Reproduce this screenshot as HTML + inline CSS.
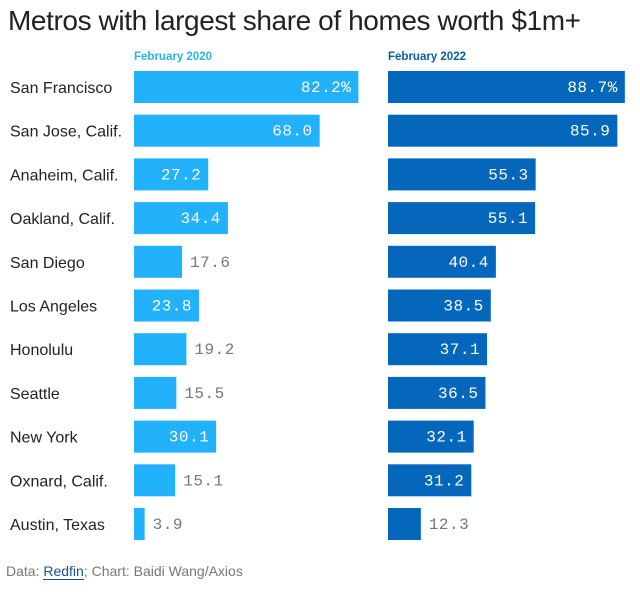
<!DOCTYPE html>
<html><head><meta charset="utf-8"><style>
body{margin:0;background:#fff;width:640px;height:594px;overflow:hidden;font-family:"Liberation Sans",sans-serif;position:relative}
.t{position:absolute;left:8px;top:5px;font-size:28px;color:#222;letter-spacing:-0.4px}
.h{position:absolute;top:51px;font-size:11.5px;font-weight:bold}
.src{position:absolute;left:6px;top:563px;font-size:14px;color:#777}
.src a{color:#1a4f9c;text-decoration:none;border-bottom:1px solid #1a4f9c}
</style></head><body>
<div class="t">Metros with largest share of homes worth $1m+</div>
<div class="h" style="left:134px;color:#29b3f5">February 2020</div>
<div class="h" style="left:388px;color:#0a5ea8">February 2022</div>
<svg id="c" width="640" height="594" style="position:absolute;left:0;top:0"></svg>
<div class="src">Data: <a>Redfin</a>; Chart: Baidi Wang/Axios</div>
<script>
const metros=["San Francisco","San Jose, Calif.","Anaheim, Calif.","Oakland, Calif.","San Diego","Los Angeles","Honolulu","Seattle","New York","Oxnard, Calif.","Austin, Texas"];
const v2020=[82.2,68.0,27.2,34.4,17.6,23.8,19.2,15.5,30.1,15.1,3.9];
const v2022=[88.7,85.9,55.3,55.1,40.4,38.5,37.1,36.5,32.1,31.2,12.3];
const NS="http://www.w3.org/2000/svg",svg=document.getElementById('c');
const rowY=i=>71+i*43.7, BH=32;
function el(t,a){const e=document.createElementNS(NS,t);for(const k in a)e.setAttribute(k,a[k]);svg.appendChild(e);return e;}
function col(vals,x0,scale,color,name){
 vals.forEach((v,i)=>{
  const y=rowY(i),w=v*scale;
  const r=el('rect',{x:x0,y:y,width:w,height:BH,fill:color});
  
  
  const lbl=(i===0?v.toFixed(1)+'%':v.toFixed(1));
  const inside=v>=20;
  const t=el('text',{x:inside?x0+w-7:x0+w+8,y:y+BH/2+5,'text-anchor':inside?'end':'start','font-family':'Liberation Mono, monospace','font-size':16,fill:inside?'#fff':'#777','letter-spacing':'0.5'});
  t.textContent=lbl;
  
  
 });
}
metros.forEach((m,i)=>{
 const t=el('text',{x:10,y:rowY(i)+BH/2+6,'font-size':16,fill:'#222'});
 t.textContent=m;
 
 
});
col(v2020,134,2.73,'#22b1fb','2020');
col(v2022,388,2.67,'#0467bb','2022');
</script>
</body></html>
